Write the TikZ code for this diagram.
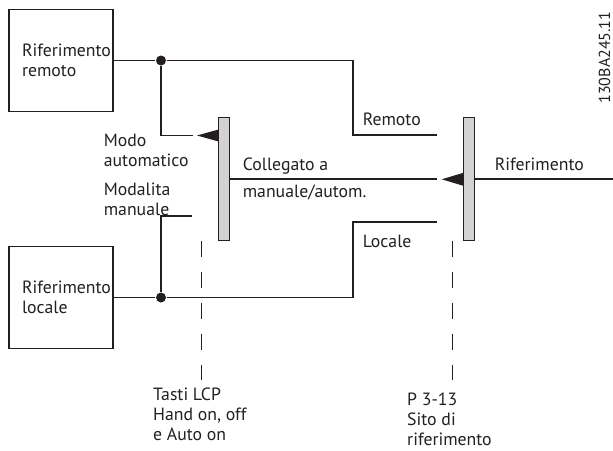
\documentclass[tikz,border=0pt]{standalone}
\usepackage{fontspec}
\setmainfont{PT Sans}
\definecolor{ink}{RGB}{35,31,32}
\definecolor{barfill}{RGB}{210,210,210}
\begin{document}
\begin{tikzpicture}[x=0.75pt,y=-0.75pt,line width=0.8pt,draw=ink,
  txt/.style={inner sep=0pt,anchor=base west,align=left,text=ink,font=\fontsize{13.3}{15}\selectfont},
  refbox/.style={draw=ink,text=ink,text width=58.5pt,inner xsep=9.75pt,inner ysep=0pt,minimum height=76.5pt,align=left,font=\fontsize{13.3}{15}\selectfont},
  bar/.style={draw=ink,fill=barfill,minimum width=8.25pt,minimum height=92.5pt,inner sep=0pt},
  dot/.style={circle,fill=ink,inner sep=0pt,minimum size=7.5pt},
  dashline/.style={draw=ink,dash pattern=on 12pt off 11.25pt}]
\useasboundingbox (0,0) rectangle (613,450);

% boxes
\node[refbox] (rem) at (61,60.5) {Riferimento\\remoto};
\node[refbox] (loc) at (61,297.5) {Riferimento\\locale};

% junction dots
\node[dot] (d1) at (161,60.5) {};
\node[dot] (d2) at (161,297.5) {};

% selector bars
\node[bar] (b1) at (224,179) {};
\node[bar] (b2) at (469,179) {};

% free ends
\coordinate (remEnd) at (437,135);
\coordinate (autoEnd) at (193.3,135.5);
\coordinate (locEnd) at (437,222);
\coordinate (manEnd) at (192,216);
\coordinate (colEnd) at (437.3,179);
\coordinate (outEnd) at (613,179);
\coordinate (ds1) at (201.3,240.7);
\coordinate (de1) at (201.3,380);
\coordinate (ds2) at (452.7,240.7);
\coordinate (de2) at (452.7,380);

% connectors
\draw (rem.east) -- (d1) -- (353,60.5) |- (remEnd);
\draw (d1) |- (autoEnd);
\draw (loc.east) -- (d2) -- (353,297.5) |- (locEnd);
\draw (d2) |- (manEnd);
\draw (b1.east) -- (colEnd);
\draw (b2.east) -- (outEnd);
\draw[dashline] (ds1) -- (de1);
\draw[dashline] (ds2) -- (de2);

% arrowheads
\fill[ink] (197,135.5) -- (218.6,129.5) -- (218.6,141.5) -- cycle;
\fill[ink] (441.7,179.3) -- (463.4,172.8) -- (463.4,185.8) -- cycle;

% labels (anchored at the baseline of their last line)
\node[txt] (lmodo) at (103.3,166.7) {Modo\\automatico};
\node[txt] (lman) at (103.3,215) {Modalita\\manuale};
\node[txt] (lcol) at (242.3,170.7) {Collegato a};
\node[txt] (lma) at (242.3,197) {manuale/autom.};
\node[txt] (lrem) at (362.3,125) {Remoto};
\node[txt] (lloc) at (362.3,247) {Locale};
\node[txt] (lrif) at (494.3,170.5) {Riferimento};
\node[txt] (llcp) at (152.7,440) {Tasti LCP\\Hand on, off\\e Auto on};
\node[txt] (lp) at (406.7,445) {P 3-13\\Sito di\\riferimento};
\node[txt,rotate=90,font=\fontsize{12}{14}\selectfont] (lid) at (610,104) {130BA245.11};
\end{tikzpicture}
\end{document}
